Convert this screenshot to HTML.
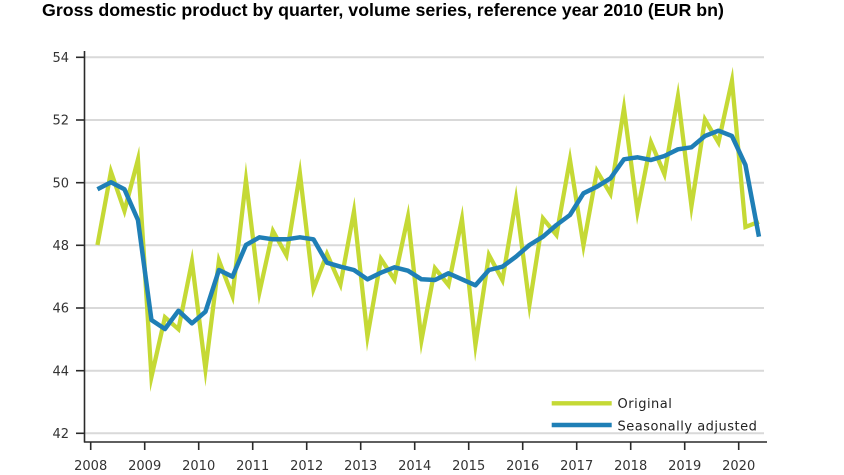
<!DOCTYPE html>
<html>
<head>
<meta charset="utf-8">
<style>
  html, body { margin:0; padding:0; background:#fff; }
  body { width:844px; height:475px; overflow:hidden; }
  svg { display:block; }
  .tick { font-family:"DejaVu Sans","Liberation Sans",sans-serif; font-size:13px; fill:#333; }
  .leg { font-family:"DejaVu Sans","Liberation Sans",sans-serif; font-size:13px; fill:#222; letter-spacing:0.5px; }
  .title { font-family:"Liberation Sans",Arial,sans-serif; font-weight:bold; font-size:17.8px; fill:#000; }
</style>
</head>
<body>
<svg width="844" height="475" viewBox="0 0 844 475" xmlns="http://www.w3.org/2000/svg">
  <rect width="844" height="475" fill="#fff"/>
  <text class="title" x="42" y="16">Gross domestic product by quarter, volume series, reference year 2010 (EUR bn)</text>

  <!-- gridlines -->
  <g stroke="#d9d9d9" stroke-width="2">
    <line x1="85" y1="57.3" x2="764" y2="57.3"/>
    <line x1="85" y1="120" x2="764" y2="120"/>
    <line x1="85" y1="182.7" x2="764" y2="182.7"/>
    <line x1="85" y1="245.3" x2="764" y2="245.3"/>
    <line x1="85" y1="308" x2="764" y2="308"/>
    <line x1="85" y1="370.7" x2="764" y2="370.7"/>
    <line x1="85" y1="433.3" x2="764" y2="433.3"/>
  </g>

  <!-- axes -->
  <g stroke="#2a2a2a" stroke-width="1.6">
    <line x1="84.5" y1="51" x2="84.5" y2="442.5"/>
    <line x1="84" y1="442" x2="767" y2="442"/>
    <!-- y ticks -->
    <line x1="76" y1="57.3" x2="84.5" y2="57.3"/>
    <line x1="76" y1="120" x2="84.5" y2="120"/>
    <line x1="76" y1="182.7" x2="84.5" y2="182.7"/>
    <line x1="76" y1="245.3" x2="84.5" y2="245.3"/>
    <line x1="76" y1="308" x2="84.5" y2="308"/>
    <line x1="76" y1="370.7" x2="84.5" y2="370.7"/>
    <line x1="76" y1="433.3" x2="84.5" y2="433.3"/>
    <!-- x ticks -->
    <line x1="90.7" y1="442" x2="90.7" y2="450"/>
    <line x1="144.7" y1="442" x2="144.7" y2="450"/>
    <line x1="198.7" y1="442" x2="198.7" y2="450"/>
    <line x1="252.7" y1="442" x2="252.7" y2="450"/>
    <line x1="306.7" y1="442" x2="306.7" y2="450"/>
    <line x1="360.7" y1="442" x2="360.7" y2="450"/>
    <line x1="414.7" y1="442" x2="414.7" y2="450"/>
    <line x1="468.7" y1="442" x2="468.7" y2="450"/>
    <line x1="522.7" y1="442" x2="522.7" y2="450"/>
    <line x1="576.7" y1="442" x2="576.7" y2="450"/>
    <line x1="630.7" y1="442" x2="630.7" y2="450"/>
    <line x1="684.7" y1="442" x2="684.7" y2="450"/>
    <line x1="738.7" y1="442" x2="738.7" y2="450"/>
  </g>

  <!-- y labels -->
  <g class="tick" text-anchor="end">
    <text x="69" y="62">54</text>
    <text x="69" y="124.7">52</text>
    <text x="69" y="187.4">50</text>
    <text x="69" y="250">48</text>
    <text x="69" y="312.7">46</text>
    <text x="69" y="375.4">44</text>
    <text x="69" y="438">42</text>
  </g>

  <!-- x labels -->
  <g class="tick" text-anchor="middle">
    <text x="90.7" y="470">2008</text>
    <text x="144.7" y="470">2009</text>
    <text x="198.7" y="470">2010</text>
    <text x="252.7" y="470">2011</text>
    <text x="306.7" y="470">2012</text>
    <text x="360.7" y="470">2013</text>
    <text x="414.7" y="470">2014</text>
    <text x="468.7" y="470">2015</text>
    <text x="522.7" y="470">2016</text>
    <text x="576.7" y="470">2017</text>
    <text x="630.7" y="470">2018</text>
    <text x="684.7" y="470">2019</text>
    <text x="738.7" y="470">2020</text>
  </g>

  <!-- Original series -->
  <polyline id="green" fill="none" stroke="#c5d935" stroke-width="4.3" stroke-linejoin="round" stroke-linecap="butt"
    points="97.45,245 110.95,163.3 124.45,218.3 137.95,146 151.45,392 164.95,313.3 178.45,333.3 191.95,248.3 205.45,386.7 218.95,251.7 232.45,305 245.95,161.7 259.45,305 272.95,225 286.45,261.7 299.95,158.3 313.45,298 326.95,248.3 340.45,291.7 353.95,196.7 367.45,351.7 380.95,253.3 394.45,285 407.95,203.3 421.45,355 434.95,263.3 448.45,290 461.95,205 475.45,361.7 488.95,248.3 502.45,286.7 515.95,185 529.45,320 542.95,213.3 556.45,240 569.95,146.7 583.45,258.3 596.95,165 610.45,200 623.95,93.3 637.45,225 650.95,135 664.45,181.7 677.95,81.7 691.45,221.7 704.95,113.3 718.45,148.3 731.95,66.7 745.45,230 758.95,221.7"/>

  <!-- Seasonally adjusted -->
  <polyline id="blue" fill="none" stroke="#1f7fb6" stroke-width="4.5" stroke-linejoin="round" stroke-linecap="butt"
    points="97.45,189.3 110.95,182.3 124.45,189.3 137.95,220 151.45,320 164.95,329 178.45,310.7 191.95,323.3 205.45,311.7 218.95,270 232.45,276.7 245.95,245 259.45,237.3 272.95,239.3 286.45,239.3 299.95,237.3 313.45,239.3 326.95,262.7 340.45,266.7 353.95,270 367.45,279.3 380.95,272.7 394.45,267.3 407.95,270.7 421.45,279.3 434.95,280 448.45,273.3 461.95,279.3 475.45,285.3 488.95,270 502.45,266.7 515.95,256.7 529.45,245 542.95,236.7 556.45,225 569.95,215 583.45,193.3 596.95,186.7 610.45,178.3 623.95,159.3 637.45,157.3 650.95,160 664.45,156 677.95,149.3 691.45,147.3 704.95,136 718.45,130.7 731.95,136 745.45,165 758.95,236.7"/>

  <!-- legend -->
  <line x1="551.7" y1="403.3" x2="611.7" y2="403.3" stroke="#c5d935" stroke-width="4.3"/>
  <line x1="551.7" y1="425" x2="611.7" y2="425" stroke="#1f7fb6" stroke-width="4.5"/>
  <text class="leg" x="617.5" y="408">Original</text>
  <text class="leg" x="617.5" y="430.5">Seasonally adjusted</text>
</svg>
<script>
(function(){
  try {
    var el = document.getElementById('green');
    var w = 4.3;
    var pts = el.getAttribute('points').trim().split(/\s+/).map(function(s){
      var a = s.split(','); return [parseFloat(a[0]), parseFloat(a[1])];
    });
    var T = pts.map(function(p){ return p[1]; });
    var P = pts.map(function(p){ return [p[0], p[1]]; });
    var n = P.length;
    for (var it = 0; it < 40; it++) {
      for (var i = 1; i < n - 1; i++) {
        var a = P[i-1], b = P[i], c = P[i+1];
        if ((T[i-1] - T[i]) * (T[i+1] - T[i]) <= 0) continue;
        var u1x = a[0]-b[0], u1y = a[1]-b[1], l1 = Math.hypot(u1x,u1y);
        var u2x = c[0]-b[0], u2y = c[1]-b[1], l2 = Math.hypot(u2x,u2y);
        u1x/=l1; u1y/=l1; u2x/=l2; u2y/=l2;
        var bx = u1x+u2x, by = u1y+u2y, bl = Math.hypot(bx,by);
        if (bl < 1e-6) continue;
        bx/=bl; by/=bl;
        var cosT = Math.max(-1, Math.min(1, u1x*u2x + u1y*u2y));
        var half = Math.acos(cosT)/2;
        var d = (w/2)/Math.sin(half);
        P[i][1] = T[i] + by*d;
      }
    }
    el.setAttribute('points', P.map(function(p){ return p[0].toFixed(2)+','+p[1].toFixed(2); }).join(' '));
    el.setAttribute('stroke-linejoin', 'miter');
    el.setAttribute('stroke-miterlimit', '100');
  } catch(e) {}
})();
</script>
</body>
</html>
